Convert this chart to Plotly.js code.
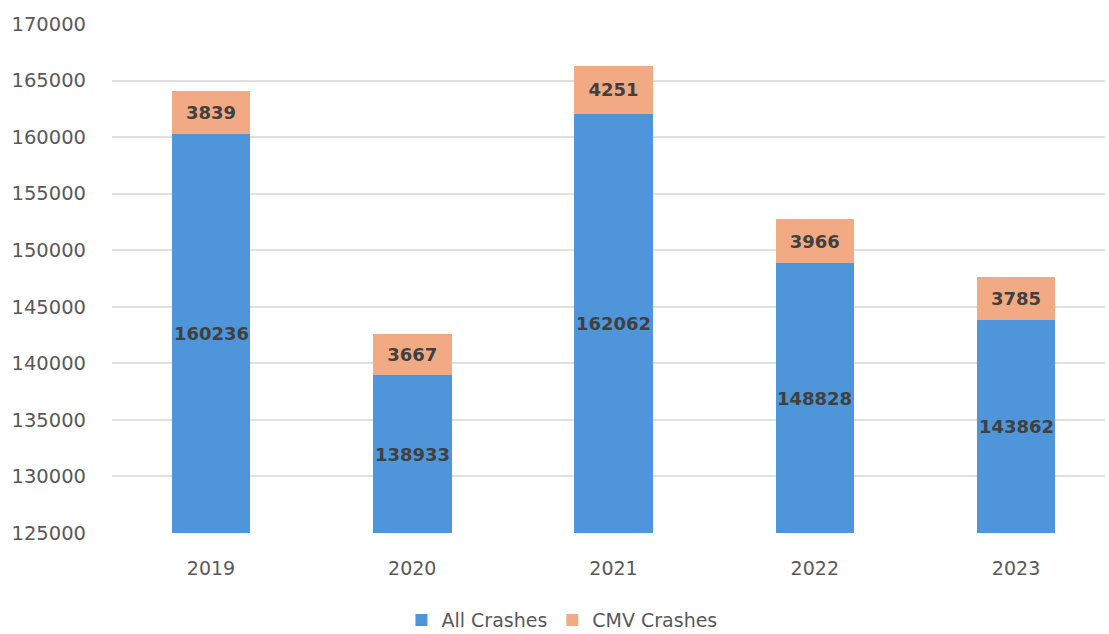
<!DOCTYPE html>
<html>
<head>
<meta charset="utf-8">
<script src="https://cdn.plot.ly/plotly-3.0.1.min.js"></script>
<style>html,body{margin:0;padding:0;background:#fff;}#chart{width:1109px;height:634px;}</style>
</head>
<body>
<div id="chart"></div>
<script>
const years = ['2019', '2020', '2021', '2022', '2023'];
const allCrashes = [160236, 138933, 162062, 148828, 143862];
const cmvCrashes = [3839, 3667, 4251, 3966, 3785];
const yTicks = [125000, 130000, 135000, 140000, 145000, 150000, 155000, 160000, 165000, 170000];

const yMin = 125000, yMax = 170000;
const labelFont = () => ({family: 'DejaVu Sans', size: 18, color: '#404040', weight: 'bold'});

const traces = [
  {
    type: 'bar', name: 'All Crashes', x: years, y: allCrashes,
    marker: {color: '#4E95D9'}, width: 0.39,
    textposition: 'none', hoverinfo: 'x+y'
  },
  {
    type: 'bar', name: 'CMV Crashes', x: years, y: cmvCrashes,
    marker: {color: '#F2AA84'}, width: 0.39,
    text: cmvCrashes.map(String), textposition: 'inside', insidetextanchor: 'middle',
    textangle: 0, textfont: labelFont(), constraintext: 'none'
  }
];

// Label of the blue segment sits in the middle of its visible part (axis floor to value)
const annotations = years.map((yr, i) => ({
  x: i, y: (yMin + allCrashes[i]) / 2, xref: 'x', yref: 'y',
  text: String(allCrashes[i]), showarrow: false, font: labelFont()
}));

const layout = {
  width: 1109, height: 634,
  margin: {l: 112, r: 4, t: 24, b: 101, autoexpand: false},
  barmode: 'stack',
  paper_bgcolor: '#fff', plot_bgcolor: '#fff',
  font: {family: 'DejaVu Sans', size: 19, color: '#595959'},
  xaxis: {
    type: 'category', range: [-0.492, 4.442], showgrid: false, zeroline: false,
    showline: false, ticks: '', ticklabelstandoff: 22,
    tickfont: {family: 'DejaVu Sans', size: 19, color: '#595959'}
  },
  yaxis: {
    range: [yMin, yMax], tickvals: yTicks, ticktext: yTicks.map(String),
    showgrid: true, gridcolor: '#E0E0E0', gridwidth: 2, zeroline: false,
    showline: false, ticks: '', ticklabelstandoff: 25,
    tickfont: {family: 'DejaVu Sans', size: 19.5, color: '#595959'}
  },
  showlegend: true,
  legend: {
    orientation: 'h', xref: 'container', yref: 'container',
    x: 0.362, xanchor: 'left', y: 0.022, yanchor: 'middle',
    font: {family: 'DejaVu Sans', size: 19, color: '#595959'},
    itemwidth: 30, traceorder: 'normal', bgcolor: 'rgba(0,0,0,0)'
  },
  annotations: annotations
};

Plotly.newPlot('chart', traces, layout, {displayModeBar: false, staticPlot: true});
</script>
</body>
</html>
